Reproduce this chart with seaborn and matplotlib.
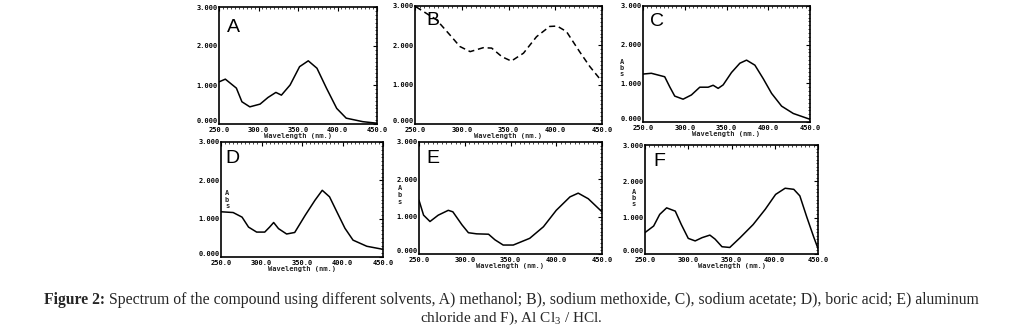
import matplotlib
matplotlib.use("Agg")
import matplotlib.pyplot as plt
import pandas as pd
import seaborn as sns
from matplotlib.ticker import MultipleLocator

sns.set_theme(style="white")
plt.rcParams["font.family"] = ["DejaVu Sans"]
plt.rcParams["mathtext.fontset"] = "custom"
plt.rcParams["mathtext.rm"] = "Liberation Serif"
plt.rcParams["mathtext.bf"] = "Liberation Serif:bold"

# UV spectra (wavelength in nm, absorbance)
wl_a = [250, 258, 272, 279, 289, 302, 312, 322, 329, 340, 352, 363, 374, 386, 399, 411, 432, 450]
abs_a = [1.08, 1.15, 0.92, 0.57, 0.44, 0.51, 0.68, 0.81, 0.74, 1.00, 1.47, 1.62, 1.43, 0.92, 0.40, 0.15, 0.06, 0.02]

wl_b = [251, 273, 289, 298, 309, 323, 332, 343, 353, 366, 380, 394, 402, 412, 426, 437, 450]
abs_b = [2.98, 2.65, 2.22, 1.97, 1.84, 1.94, 1.93, 1.71, 1.60, 1.80, 2.22, 2.48, 2.49, 2.35, 1.84, 1.46, 1.08]

wl_c = [250, 260, 276, 282, 288, 298, 308, 318, 328, 334, 340, 346, 356, 366, 374, 384, 394, 404, 416, 430, 450]
abs_c = [1.24, 1.26, 1.17, 0.91, 0.67, 0.59, 0.70, 0.90, 0.90, 0.95, 0.87, 0.96, 1.28, 1.52, 1.60, 1.47, 1.12, 0.74, 0.41, 0.22, 0.07]

wl_d = [250, 265, 276, 284, 294, 304, 310, 315, 321, 331, 341, 354, 366, 375, 384, 393, 403, 413, 430, 450]
abs_d = [1.18, 1.16, 1.04, 0.78, 0.65, 0.65, 0.78, 0.90, 0.74, 0.60, 0.64, 1.09, 1.48, 1.74, 1.57, 1.18, 0.75, 0.44, 0.28, 0.20]

wl_e = [250, 255, 262, 271, 282, 287, 297, 304, 313, 326, 333, 342, 353, 371, 386, 400, 415, 424, 435, 450]
abs_e = [1.44, 1.04, 0.87, 1.04, 1.17, 1.13, 0.78, 0.57, 0.54, 0.53, 0.38, 0.24, 0.24, 0.42, 0.73, 1.17, 1.53, 1.63, 1.48, 1.13]

wl_f = [250, 260, 267, 275, 285, 292, 300, 308, 316, 325, 331, 339, 348, 360, 375, 389, 401, 412, 422, 429, 437, 445, 450]
abs_f = [0.59, 0.77, 1.09, 1.27, 1.18, 0.81, 0.43, 0.36, 0.45, 0.52, 0.41, 0.20, 0.18, 0.45, 0.81, 1.23, 1.64, 1.81, 1.78, 1.60, 1.02, 0.47, 0.15]

panel_letters = ["A", "B", "C", "D", "E", "F"]
x_ticks = [250, 300, 350, 400, 450]
x_tick_labels = ["250.0", "300.0", "350.0", "400.0", "450.0"]
y_ticks = [0, 1, 2, 3]
y_tick_labels = ["0.000", "1.000", "2.000", "3.000"]
x_label = "Wavelength (nm.)"
y_label = "A\nb\ns"

caption_bold = "Figure 2:"
caption_rest = (" Spectrum of the compound using different solvents, A) methanol; B), sodium methoxide, "
                "C), sodium acetate; D), boric acid; E) aluminum")
caption_2 = r"chloride and F), Al Cl$_3$ / HCl."

spectra = {
    "A": (wl_a, abs_a), "B": (wl_b, abs_b), "C": (wl_c, abs_c),
    "D": (wl_d, abs_d), "E": (wl_e, abs_e), "F": (wl_f, abs_f),
}

W, H = 1023, 334
fig = plt.figure(figsize=(W / 100, H / 100), dpi=100)
fig.patch.set_facecolor("white")

# axes frames in figure pixels: left, top, right, bottom
frames = {
    "A": (219, 7, 377, 124),
    "B": (415, 6, 602, 124),
    "C": (643, 6, 810, 122),
    "D": (221, 142, 383, 257),
    "E": (419, 142, 602, 254),
    "F": (645, 145, 818, 254),
}
letter_pos = {
    "A": (0.05, 0.90), "B": (0.06, 0.95), "C": (0.04, 0.94),
    "D": (0.03, 0.93), "E": (0.04, 0.93), "F": (0.05, 0.93),
}
# stacked y-label position in figure pixels (None = not drawn)
ylabel_pos = {"A": None, "B": None, "C": (622, 68), "D": (227, 200), "E": (400, 195), "F": (634, 198)}

mono = dict(family="DejaVu Sans Mono", weight="bold")

for letter in panel_letters:
    l, t, r, b = frames[letter]
    ax = fig.add_axes([l / W, 1 - b / H, (r - l) / W, (b - t) / H])
    wl, ab = spectra[letter]
    df = pd.DataFrame({"wavelength": wl, "absorbance": ab})
    ls = (0, (4, 2.5)) if letter == "B" else "-"
    sns.lineplot(data=df, x="wavelength", y="absorbance", ax=ax,
                 color="black", linewidth=1.1, linestyle=ls)
    ax.set_xlim(250, 450)
    ax.set_ylim(0, 3)
    ax.set_xticks(x_ticks)
    ax.set_xticklabels(x_tick_labels, fontsize=5, **mono)
    ax.set_yticks(y_ticks)
    ax.set_yticklabels(y_tick_labels, fontsize=5, **mono)
    # lift the zero label so it clears the wavelength labels
    ax.get_yticklabels()[0].set_va("bottom")
    ax.xaxis.set_minor_locator(MultipleLocator(5))
    ax.yaxis.set_minor_locator(MultipleLocator(0.1))
    ax.tick_params(which="major", direction="in", length=3, width=0.8,
                   top=True, right=True, pad=1, colors="black")
    ax.tick_params(axis="x", which="major", pad=2)
    ax.tick_params(which="minor", direction="in", length=1.5, width=0.6,
                   top=True, right=True)
    ax.set_xlabel(x_label, fontsize=5, labelpad=0, **mono)
    ax.set_ylabel("")
    for s in ax.spines.values():
        s.set_color("black")
        s.set_linewidth(1.2)
    ax.set_facecolor("white")
    lx, ly = letter_pos[letter]
    ax.text(lx, ly, letter, transform=ax.transAxes, ha="left", va="top",
            fontsize=14, family="Liberation Sans", color="black")
    if ylabel_pos[letter] is not None:
        px, py = ylabel_pos[letter]
        fig.text(px / W, 1 - py / H, y_label, ha="center", va="center",
                 fontsize=5, linespacing=1.1, **mono)

# caption: bold lead-in followed by regular text, centred as one line
cap_size = 11.3
renderer = fig.canvas.get_renderer()
t_bold = fig.text(0, 1 - 300 / H, caption_bold, ha="left", va="center",
                  fontsize=cap_size, family="Liberation Serif", weight="bold")
t_rest = fig.text(0, 1 - 300 / H, caption_rest, ha="left", va="center",
                  fontsize=cap_size, family="Liberation Serif")
wb = t_bold.get_window_extent(renderer).width
wr = t_rest.get_window_extent(renderer).width
x0 = (W - (wb + wr)) / 2
t_bold.set_x(x0 / W)
t_rest.set_x((x0 + wb) / W)

fig.text(0.5, 1 - 318 / H, caption_2, ha="center", va="center",
         fontsize=11, family="Liberation Serif")

fig.savefig("out.png", dpi=100, facecolor="white")
